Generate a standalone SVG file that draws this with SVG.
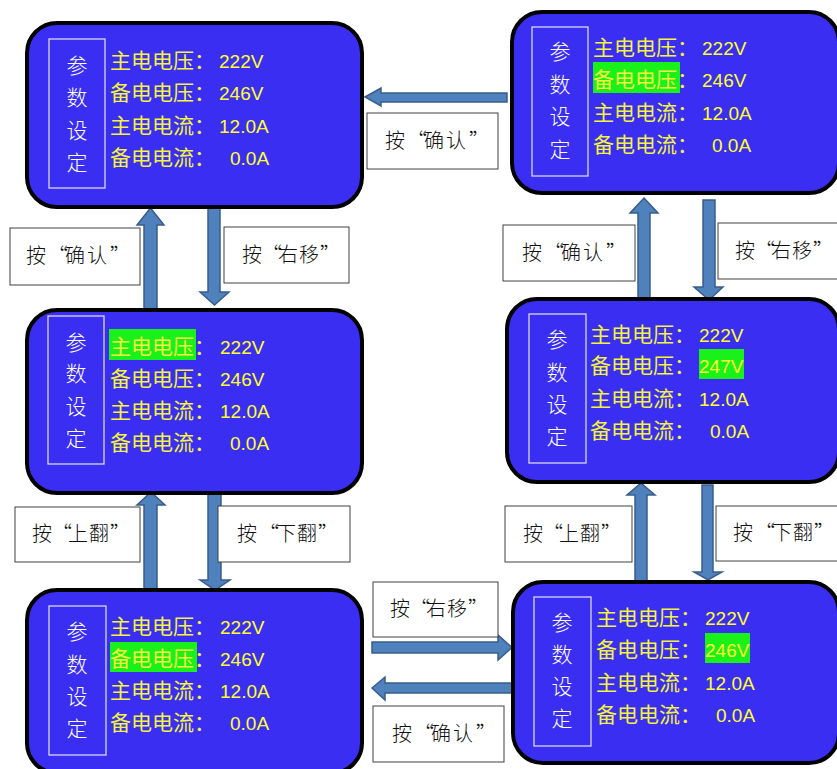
<svg xmlns="http://www.w3.org/2000/svg" width="837" height="769" viewBox="0 0 837 769">
<style>
.panel{fill:#3a2ef2;stroke:#000;stroke-width:4}
.inner{fill:none;stroke:#d8d8f8;stroke-width:1.3}
.hl{fill:#1af01a}
.cj{font-family:"Noto Sans CJK SC","Noto Sans CJK TC",sans-serif;font-size:21px;fill:#f4f43c}
.num{font-family:"Liberation Sans",Arial,sans-serif;font-size:19px;fill:#ffff30}
.vt{font-family:"Noto Sans CJK SC",serif;font-size:21px;fill:#ffffff;text-anchor:middle;font-weight:300}
.lbox{fill:#fff;stroke:#404040;stroke-width:1}
.ltxt{font-family:"Noto Sans CJK SC",serif;font-size:20px;fill:#111;font-weight:300}
.arr{fill:#4f81bd;stroke:#385d8a;stroke-width:1.5;stroke-linejoin:miter}
</style>
<g id="connectors">
<polygon class="arr" points="150.5,208 164,225 157,225 157,310 144,310 144,225 137,225"/>
<polygon class="arr" points="208,207 220,207 220,292 229,292 214.5,305 200,292 208,292"/>
<polygon class="arr" points="644,198 658,213 650,213 650,298 638,298 638,213 630,213"/>
<polygon class="arr" points="703,200 715,200 715,287 723,287 709,300 694,287 703,287"/>
<polygon class="arr" points="365,97 381,88 381,93 507,93 507,102 381,102 381,106"/>
<polygon class="arr" points="151,492 165,505 157,505 157,590 144,590 144,505 137,505"/>
<polygon class="arr" points="208,493 221,493 221,580 230,580 215,590 200,580 208,580"/>
<polygon class="arr" points="641,483 655,495 647,495 647,582 635,582 635,495 627,495"/>
<polygon class="arr" points="702,485 713,485 713,572 722,572 708,580 694,572 702,572"/>
<polygon class="arr" points="372,642 498,642 498,635 512,647.5 498,660 498,653 372,653"/>
<polygon class="arr" points="372,688 385,677 385,683 512,683 512,693 385,693 385,700"/>
</g>
<g id="label-tr-tl"><rect class="lbox" x="367" y="113" width="131" height="56"/><text class="ltxt" x="385 407 424 446 469" y="148">按“确认”</text></g>
<g id="label-ml-tl"><rect class="lbox" x="10" y="228" width="130" height="57"/><text class="ltxt" x="26 48 65 87 110" y="263">按“确认”</text></g>
<g id="label-tl-ml"><rect class="lbox" x="224" y="227" width="125" height="56"/><text class="ltxt" x="242 262 278 299 320" y="262">按“右移”</text></g>
<g id="label-mr-tr"><rect class="lbox" x="503" y="225" width="132" height="56"/><text class="ltxt" x="522 544 561 583 606" y="260">按“确认”</text></g>
<g id="label-tr-mr"><rect class="lbox" x="718" y="223" width="130" height="56"/><text class="ltxt" x="735 755 771 792 813" y="258">按“右移”</text></g>
<g id="label-bl-ml"><rect class="lbox" x="15" y="507" width="125" height="55"/><text class="ltxt" x="32 52 68 89 110" y="541">按“上翻”</text></g>
<g id="label-ml-bl"><rect class="lbox" x="218" y="506" width="132" height="56"/><text class="ltxt" x="237 259 276 297 318" y="541">按“下翻”</text></g>
<g id="label-br-mr"><rect class="lbox" x="505" y="506" width="127" height="56"/><text class="ltxt" x="523 543 559 580 601" y="541">按“上翻”</text></g>
<g id="label-mr-br"><rect class="lbox" x="716" y="506" width="130" height="55"/><text class="ltxt" x="733 755 772 793 814" y="540">按“下翻”</text></g>
<g id="label-bl-br"><rect class="lbox" x="373" y="582" width="125" height="55"/><text class="ltxt" x="390 410 426 447 468" y="616">按“右移”</text></g>
<g id="label-br-bl"><rect class="lbox" x="373" y="706" width="131" height="56"/><text class="ltxt" x="392 414 431 453 476" y="741">按“确认”</text></g>

<g id="panel-tl">
<rect class="panel" x="27" y="23" width="335" height="184" rx="30"/>
<rect class="inner" x="49" y="39" width="56" height="149"/>
<text class="vt" x="77" y="73">参</text><text class="vt" x="77" y="105">数</text><text class="vt" x="77" y="138">设</text><text class="vt" x="77" y="170">定</text>
<text class="cj" x="110" y="68">主电电压：</text><text class="num" x="219" y="68">222V</text>
<text class="cj" x="110" y="100">备电电压：</text><text class="num" x="219" y="100">246V</text>
<text class="cj" x="110" y="133">主电电流：</text><text class="num" x="219" y="133">12.0A</text>
<text class="cj" x="110" y="165">备电电流：</text><text class="num" x="230" y="165">0.0A</text>
</g>
<g id="panel-tr">
<rect class="panel" x="512" y="12" width="327" height="181" rx="30"/>
<rect class="inner" x="532" y="27" width="56" height="149"/>
<text class="vt" x="560" y="59">参</text><text class="vt" x="560" y="92">数</text><text class="vt" x="560" y="124">设</text><text class="vt" x="560" y="157">定</text>
<rect class="hl" x="593" y="62" width="87" height="31"/>
<text class="cj" x="593" y="55">主电电压：</text><text class="num" x="702" y="55">222V</text>
<text class="cj" x="593" y="87">备电电压：</text><text class="num" x="702" y="87">246V</text>
<text class="cj" x="593" y="120">主电电流：</text><text class="num" x="702" y="120">12.0A</text>
<text class="cj" x="593" y="152">备电电流：</text><text class="num" x="712" y="152">0.0A</text>
</g>
<g id="panel-ml">
<rect class="panel" x="27" y="310" width="335" height="183" rx="30"/>
<rect class="inner" x="48" y="316" width="56" height="148"/>
<text class="vt" x="76" y="350">参</text><text class="vt" x="76" y="381">数</text><text class="vt" x="76" y="414">设</text><text class="vt" x="76" y="446">定</text>
<rect class="hl" x="109" y="329" width="87" height="31"/>
<text class="cj" x="110" y="354">主电电压：</text><text class="num" x="220" y="354">222V</text>
<text class="cj" x="110" y="386">备电电压：</text><text class="num" x="220" y="386">246V</text>
<text class="cj" x="110" y="418">主电电流：</text><text class="num" x="220" y="418">12.0A</text>
<text class="cj" x="110" y="450">备电电流：</text><text class="num" x="230" y="450">0.0A</text>
</g>
<g id="panel-mr">
<rect class="panel" x="507" y="299" width="332" height="183" rx="30"/>
<rect class="inner" x="529" y="314" width="57" height="149"/>
<text class="vt" x="557" y="347">参</text><text class="vt" x="557" y="380">数</text><text class="vt" x="557" y="412">设</text><text class="vt" x="557" y="444">定</text>
<rect class="hl" x="699" y="349" width="45" height="30"/>
<text class="cj" x="590" y="342">主电电压：</text><text class="num" x="699" y="342">222V</text>
<text class="cj" x="590" y="373">备电电压：</text><text class="num" x="699" y="373">247V</text>
<text class="cj" x="590" y="406">主电电流：</text><text class="num" x="699" y="406">12.0A</text>
<text class="cj" x="590" y="438">备电电流：</text><text class="num" x="710" y="438">0.0A</text>
</g>
<g id="panel-bl">
<rect class="panel" x="27" y="590" width="335" height="183" rx="30"/>
<rect class="inner" x="49" y="606" width="57" height="149"/>
<text class="vt" x="77" y="639">参</text><text class="vt" x="77" y="672">数</text><text class="vt" x="77" y="704">设</text><text class="vt" x="77" y="736">定</text>
<rect class="hl" x="110" y="642" width="87" height="30"/>
<text class="cj" x="110" y="634">主电电压：</text><text class="num" x="220" y="634">222V</text>
<text class="cj" x="110" y="666">备电电压：</text><text class="num" x="220" y="666">246V</text>
<text class="cj" x="110" y="698">主电电流：</text><text class="num" x="220" y="698">12.0A</text>
<text class="cj" x="110" y="730">备电电流：</text><text class="num" x="230" y="730">0.0A</text>
</g>
<g id="panel-br">
<rect class="panel" x="513" y="582" width="326" height="181" rx="30"/>
<rect class="inner" x="534" y="597" width="57" height="149"/>
<text class="vt" x="562" y="630">参</text><text class="vt" x="562" y="662">数</text><text class="vt" x="562" y="694">设</text><text class="vt" x="562" y="726">定</text>
<rect class="hl" x="705" y="633" width="45" height="30"/>
<text class="cj" x="596" y="625">主电电压：</text><text class="num" x="705" y="625">222V</text>
<text class="cj" x="596" y="657">备电电压：</text><text class="num" x="705" y="657">246V</text>
<text class="cj" x="596" y="690">主电电流：</text><text class="num" x="705" y="690">12.0A</text>
<text class="cj" x="596" y="722">备电电流：</text><text class="num" x="716" y="722">0.0A</text>
</g>
</svg>
